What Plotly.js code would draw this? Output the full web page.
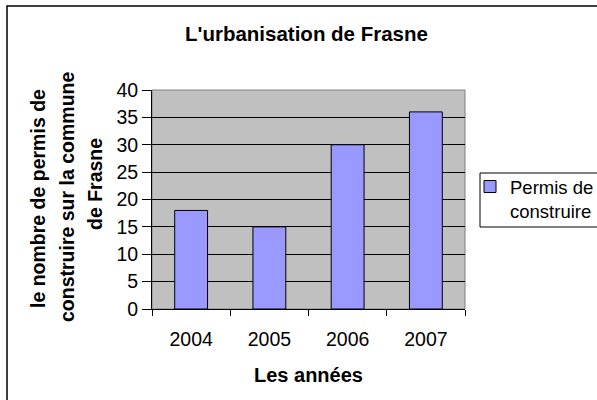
<!DOCTYPE html>
<html>
<head>
<meta charset="utf-8">
<script src="https://cdn.plot.ly/plotly-3.0.1.min.js"></script>
<style>
html, body { margin: 0; padding: 0; background: #fff; }
#chart { width: 597px; height: 400px; }
</style>
</head>
<body>
<div id="chart"></div>
<script>
var categories = ['2004', '2005', '2006', '2007'];
var permisValues = [18, 15, 30, 36];
var seriesName = 'Permis de<br>construire';
var yTickValues = [0, 5, 10, 15, 20, 25, 30, 35, 40];
var chartTitle = "L'urbanisation de Frasne";
var xTitle = 'Les années';
var yTitleLines = ['le nombre de permis de', 'construire sur la commune', 'de Frasne'];

var font = 'Liberation Sans, Arial, sans-serif';

var trace = {
  type: 'bar',
  x: categories,
  y: permisValues,
  name: seriesName,
  marker: { color: '#9999FF', line: { color: '#000000', width: 1 } },
  showlegend: true,
  hoverinfo: 'x+y'
};

// plot area: x 152..465, y 90..309 (px)
var L = 152, R = 465, T = 90, B = 309;
var W = R - L, H = B - T;
function px(x) { return (x - L) / W; }
function py(y) { return (B - y) / H; }

var yTitleX = [38, 67, 95];
var yTitleY = [199, 197, 184];
var yTitleAnn = yTitleLines.map(function (t, i) {
  return { text: '<b>' + t + '</b>', xref: 'paper', yref: 'paper', x: px(yTitleX[i]), y: py(yTitleY[i]),
    xanchor: 'center', yanchor: 'middle', showarrow: false, textangle: -90,
    font: { family: font, size: 19.5, color: '#000' } };
});

var layout = {
  width: 597,
  height: 400,
  margin: { l: L, r: 597 - R, t: T, b: 400 - B, pad: 0, autoexpand: false },
  paper_bgcolor: '#ffffff',
  plot_bgcolor: '#C0C0C0',
  font: { family: font, size: 19.5, color: '#000000' },
  bargap: 0.58,
  showlegend: true,
  legend: {
    x: px(470), y: py(168), xanchor: 'left', yanchor: 'top',
    valign: 'top',
    bgcolor: 'rgba(0,0,0,0)', borderwidth: 0,
    font: { family: font, size: 18.5, color: '#000' },
    itemclick: false, itemdoubleclick: false
  },
  xaxis: {
    type: 'category',
    tickson: 'boundaries',
    ticks: 'outside', ticklen: 6, tickwidth: 1, tickcolor: '#000',
    showline: true, linecolor: '#000', linewidth: 1,
    showgrid: false, zeroline: false,
    ticklabelstandoff: 13,
    tickfont: { family: font, size: 19.5, color: '#000' },
    fixedrange: true
  },
  yaxis: {
    range: [0, 40],
    tickvals: yTickValues,
    ticks: 'outside', ticklen: 9, tickwidth: 1, tickcolor: '#000',
    showline: true, linecolor: '#000', linewidth: 1,
    showgrid: true, gridcolor: '#000', gridwidth: 1,
    zeroline: false,
    tickfont: { family: font, size: 19.5, color: '#000' },
    fixedrange: true
  },
  shapes: [
    // plot area frame (gray)
    { type: 'rect', xref: 'paper', yref: 'paper', x0: 0, x1: 1, y0: 0, y1: 1,
      line: { color: '#808080', width: 1 }, layer: 'below' },
    // outer chart frame
    { type: 'rect', xref: 'paper', yref: 'paper', x0: px(7), x1: px(605), y0: py(6), y1: py(408),
      line: { color: '#000', width: 1.5 }, fillcolor: 'rgba(0,0,0,0)' },
    // legend box
    { type: 'rect', xref: 'paper', yref: 'paper', x0: px(480), x1: px(610), y0: py(173), y1: py(227),
      line: { color: '#000', width: 1 }, fillcolor: 'rgba(0,0,0,0)' }
  ],
  annotations: [
    { text: '<b>' + chartTitle + '</b>', xref: 'paper', yref: 'paper', x: px(306), y: py(33),
      xanchor: 'center', yanchor: 'middle', showarrow: false,
      font: { family: font, size: 20.5, color: '#000' } },
    { text: '<b>' + xTitle + '</b>', xref: 'paper', yref: 'paper', x: px(308), y: py(375),
      xanchor: 'center', yanchor: 'middle', showarrow: false,
      font: { family: font, size: 20, color: '#000' } }
  ].concat(yTitleAnn)
};

Plotly.newPlot('chart', [trace], layout, { displayModeBar: false, staticPlot: true });
</script>
</body>
</html>
